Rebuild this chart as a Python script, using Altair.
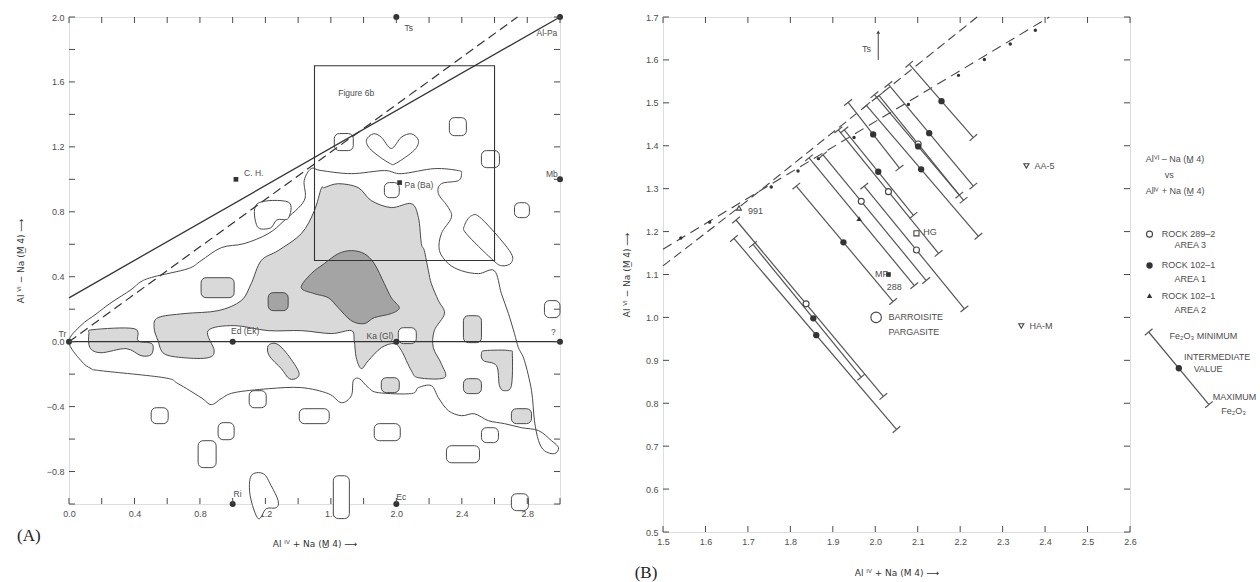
import altair as alt
import pandas as pd

FONT = "Liberation Sans"
LINE = "#4a4a4a"
LIGHT = "#d9d9d9"
DARK = "#a4a4a4"
TXT = "#4d4d4d"

A_W, A_H = 491, 487
B_W, B_H = 467, 515

# ---------------- Panel A data ----------------
A_X_TICKS = [0.0, 0.2, 0.4, 0.6, 0.8, 1.0, 1.2, 1.4, 1.6, 1.8, 2.0, 2.2, 2.4, 2.6, 2.8, 3.0]
A_Y_TICKS = [-1.0, -0.8, -0.6, -0.4, -0.2, 0.0, 0.2, 0.4, 0.6, 0.8, 1.0, 1.2, 1.4, 1.6, 1.8, 2.0]
A_X_LABELS = [0.0, 0.4, 0.8, 1.2, 1.6, 2.0, 2.4, 2.8]
A_Y_LABELS = [-0.8, -0.4, 0.0, 0.4, 0.8, 1.2, 1.6, 2.0]

OUTER_X = [0.0, 0.073, 0.135, 0.196, 0.581, 0.667, 0.807, 0.869, 0.93, 1.009, 1.217, 1.419, 1.584, 1.664,
           1.725, 1.737, 1.774, 1.829, 1.89, 2.092, 2.135, 2.214, 2.257, 2.318, 2.398, 2.477, 2.563, 2.661,
           2.765, 2.869, 2.948, 2.991, 2.966, 2.905, 2.869, 2.844, 2.826, 2.783, 2.746, 2.722, 2.685, 2.642,
           2.599, 2.502, 2.398, 2.318, 2.263, 2.275, 2.336, 2.318, 2.257, 2.275, 2.379, 2.398, 2.379, 2.232,
           2.031, 1.927, 1.725, 1.541, 1.48, 1.437, 1.437, 1.315, 1.217, 1.07, 0.93, 0.807, 0.728, 0.52,
           0.44, 0.379, 0.257, 0.165, 0.073]
OUTER_Y = [0.0, -0.117, -0.166, -0.179, -0.222, -0.259, -0.345, -0.388, -0.351, -0.314, -0.29, -0.283, -0.32,
           -0.376, -0.333, -0.241, -0.228, -0.283, -0.314, -0.32, -0.283, -0.271, -0.345, -0.425, -0.456,
           -0.444, -0.487, -0.505, -0.53, -0.548, -0.61, -0.653, -0.69, -0.672, -0.61, -0.487, -0.302, -0.117,
           -0.037, 0.049, 0.173, 0.296, 0.437, 0.419, 0.437, 0.481, 0.561, 0.665, 0.764, 0.826, 0.912, 0.973,
           0.992, 1.035, 1.054, 1.066, 1.035, 1.054, 1.035, 1.054, 1.066, 0.992, 0.869, 0.746, 0.665, 0.604,
           0.579, 0.499, 0.45, 0.40, 0.37, 0.32, 0.24, 0.17, 0.10]

LIGHT_X = [1.56, 1.645, 1.767, 1.847, 1.969, 2.092, 2.135, 2.153, 2.171, 2.196, 2.214, 2.257, 2.294, 2.232,
           2.226, 2.275, 2.294, 2.135, 2.092, 2.031, 1.988, 1.908, 1.829, 1.786, 1.755, 1.743, 1.725, 1.602,
           1.419, 1.217, 1.009, 0.85, 0.887, 0.85, 0.703, 0.581, 0.544, 0.52, 0.544, 0.703, 0.911, 1.052,
           1.113, 1.174, 1.278, 1.419, 1.498, 1.541]
LIGHT_Y = [0.949, 0.973, 0.949, 0.869, 0.826, 0.85, 0.764, 0.604, 0.561, 0.437, 0.357, 0.253, 0.173, 0.068,
           -0.037, -0.136, -0.222, -0.222, -0.179, -0.055, -0.012, -0.037, -0.117, -0.166, -0.099, 0.006,
           0.068, 0.05, 0.068, 0.068, 0.099, 0.068, -0.055, -0.099, -0.099, -0.074, 0.006, 0.086, 0.148,
           0.173, 0.191, 0.253, 0.357, 0.499, 0.561, 0.665, 0.804, 0.943]

DARK_X = [1.419, 1.48, 1.56, 1.645, 1.725, 1.804, 1.865, 1.927, 1.969, 2.018, 1.969, 1.865, 1.804, 1.725,
          1.645, 1.584, 1.498]
DARK_Y = [0.333, 0.419, 0.481, 0.542, 0.561, 0.542, 0.481, 0.357, 0.271, 0.209, 0.173, 0.148, 0.111, 0.129,
          0.209, 0.271, 0.296]

LEFTBLOB_X = [0.122, 0.147, 0.398, 0.422, 0.489, 0.514, 0.502, 0.44, 0.349, 0.196, 0.128]
LEFTBLOB_Y = [0.049, 0.074, 0.08, 0.006, -0.006, -0.025, -0.08, -0.086, -0.043, -0.068, -0.037]
SLANT_X = [1.217, 1.266, 1.327, 1.401, 1.394, 1.346, 1.297, 1.223]
SLANT_Y = [-0.025, -0.012, -0.068, -0.179, -0.222, -0.228, -0.166, -0.086]
TRI_X = [2.52, 2.544, 2.691, 2.709, 2.703, 2.661, 2.63, 2.612, 2.532]
TRI_Y = [-0.074, -0.055, -0.055, -0.086, -0.271, -0.302, -0.271, -0.148, -0.117]

V_X = [1.817, 1.859, 1.908, 1.969, 2.031, 2.092, 2.135, 2.11, 2.0, 1.957, 1.847]
V_Y = [1.24, 1.28, 1.26, 1.19, 1.26, 1.28, 1.24, 1.18, 1.10, 1.10, 1.18]
DIAG_X = [2.416, 2.459, 2.52, 2.691, 2.703, 2.642, 2.581, 2.428]
DIAG_Y = [0.715, 0.776, 0.758, 0.561, 0.487, 0.468, 0.511, 0.665]
LOW_X = [1.113, 1.187, 1.235, 1.278, 1.266, 1.205, 1.156, 1.107]
LOW_Y = [-0.826, -0.813, -0.887, -0.98, -1.023, -1.029, -1.09, -0.949]
LSHAPE_X = [1.15, 1.34, 1.34, 1.27, 1.23, 1.15]
LSHAPE_Y = [0.85, 0.86, 0.76, 0.75, 0.70, 0.71]

RR_X1 = [1.101, 0.502, 0.911, 0.789, 1.407, 1.615, 1.865, 2.306, 2.52, 2.703, 2.012, 2.905, 2.52, 2.722,
         1.927, 2.324, 1.621, 0.807, 2.703, 2.41, 1.908, 2.41, 1.217]
RR_X2 = [1.205, 0.606, 1.009, 0.899, 1.59, 1.713, 2.024, 2.508, 2.624, 2.807, 2.122, 3.0, 2.63, 2.813,
         2.018, 2.428, 1.737, 1.009, 2.826, 2.52, 2.018, 2.52, 1.339]
RR_Y1 = [-0.302, -0.407, -0.499, -0.61, -0.413, -0.826, -0.505, -0.641, -0.53, -0.937, 0.086, 0.253, 1.177,
         0.856, 0.98, 1.38, 1.282, 0.394, -0.413, -0.228, -0.222, 0.16, 0.302]
RR_Y2 = [-0.407, -0.505, -0.604, -0.776, -0.505, -1.09, -0.61, -0.746, -0.622, -1.041, -0.012, 0.148, 1.072,
         0.764, 0.887, 1.269, 1.177, 0.271, -0.505, -0.32, -0.314, -0.006, 0.191]
RR_KIND = ["white"] * 17 + ["light"] * 5 + ["dark"]

A_PT_X = [0.0, 1.0, 2.0, 3.0, 1.0, 2.0, 2.0, 3.0, 3.0]
A_PT_Y = [0.0, 0.0, 0.0, 0.0, -1.0, -1.0, 2.0, 2.0, 1.0]
A_SQ_X = [1.02, 2.02]
A_SQ_Y = [1.0, 0.98]

A_LBL = ["Tr", "Ed (Ek)", "Ka (Gl)", "?", "Ri", "Ec", "Ts", "Al-Pa", "Mb", "Pa (Ba)", "C. H.", "Figure 6b"]
A_LBL_X = [-0.04, 0.99, 1.90, 2.96, 1.03, 2.03, 2.05, 2.92, 2.95, 2.05, 1.07, 1.645]
A_LBL_Y = [0.05, 0.065, 0.035, 0.06, -0.94, -0.955, 1.93, 1.90, 1.03, 0.965, 1.04, 1.53]
A_LBL_AL = ["center", "left", "center", "center", "center", "center", "left", "center", "center", "left",
            "left", "left"]

SOLID_X = [0.0, 3.0]
SOLID_Y = [0.27, 2.0]
DASH_X = [0.0, 2.74]
DASH_Y = [0.0, 2.0]
HLINE_X = [0.0, 3.0]
HLINE_Y = [0.0, 0.0]
FIG6B = [1.5, 2.6, 0.5, 1.7]

# ---------------- Panel B data ----------------
B_X_TICKS = [1.5, 1.6, 1.7, 1.8, 1.9, 2.0, 2.1, 2.2, 2.3, 2.4, 2.5, 2.6]
B_Y_TICKS = [0.5, 0.6, 0.7, 0.8, 0.9, 1.0, 1.1, 1.2, 1.3, 1.4, 1.5, 1.6, 1.7]

BAR_X0 = [1.672, 1.667, 1.712, 1.814, 1.844, 1.877, 1.913, 1.927, 1.936, 1.974, 1.998, 2.009, 2.031, 2.080, 1.979]
BAR_Y0 = [1.227, 1.184, 1.170, 1.306, 1.372, 1.379, 1.437, 1.437, 1.501, 1.306, 1.519, 1.517, 1.543, 1.590, 1.494]
BAR_X1 = [2.019, 2.050, 1.967, 2.042, 2.092, 2.120, 2.149, 2.090, 2.057, 2.210, 2.198, 2.208, 2.231, 2.231, 2.243]
BAR_Y1 = [0.816, 0.739, 0.861, 1.037, 1.074, 1.086, 1.149, 1.238, 1.348, 1.020, 1.285, 1.273, 1.306, 1.419, 1.189]
BAR_MX = [1.837, 1.861, 1.854, 1.925, 1.962, 1.967, 2.031, 2.007, 1.995, 2.097, 2.101, 2.101, 2.127, 2.156, 2.108]
BAR_KIND = ["open", "filled", "filled", "filled", "tri", "open", "open", "filled", "filled", "open",
            "filled", "open", "filled", "filled", "filled"]

DASH1_X = [1.5, 1.69, 2.24]
DASH1_Y = [1.12, 1.265, 1.70]
DASH2_X = [1.5, 2.41]
DASH2_Y = [1.159, 1.70]
DOTS_X = [1.542, 1.61, 1.755, 1.818, 1.866, 1.95, 2.078, 2.196, 2.257, 2.318, 2.377]
DOTS_Y = [1.185, 1.222, 1.304, 1.341, 1.37, 1.419, 1.496, 1.564, 1.601, 1.637, 1.669]

LEG_BAR = [2.644, 0.966, 2.786, 0.797, 2.715]

B_SPEC_X = [1.679, 2.031, 2.097, 2.002, 2.356, 2.344, 2.646, 2.646, 2.646]
B_SPEC_Y = [1.255, 1.10, 1.196, 1.0, 1.353, 0.98, 1.194, 1.121, 1.051]
B_SPEC_KIND = ["tri_open", "sq_filled", "sq_open", "big_open", "down_open", "down_open", "open", "filled", "tri"]

B_LBL = ["Ts", "991", "MF", "288", "HG", "BARROISITE", "PARGASITE", "AA-5", "HA-M",
         "Al\u2c7d\u1d35 \u2013 Na (M\u0332 4)", "vs", "Al\u1d35\u2c7d + Na (M\u0332 4)",
         "ROCK  289\u20132", "AREA 3", "ROCK  102\u20131", "AREA 1", "ROCK  102\u20131", "AREA 2",
         "Fe\u2082O\u2083  MINIMUM", "INTERMEDIATE", "VALUE", "MAXIMUM", "Fe\u2082O\u2083"]
B_LBL_X = [1.99, 1.70, 2.03, 2.045, 2.113, 2.031, 2.031, 2.375, 2.363,
           2.637, 2.682, 2.637, 2.675, 2.705, 2.675, 2.705, 2.675, 2.705, 2.693, 2.727, 2.75, 2.795, 2.815]
B_LBL_Y = [1.625, 1.248, 1.102, 1.072, 1.20, 1.0, 0.966, 1.353, 0.98,
           1.369, 1.332, 1.294, 1.194, 1.168, 1.121, 1.09, 1.051, 1.018, 0.957, 0.908, 0.88, 0.814, 0.783]
B_LBL_AL = ["right", "left", "right", "center", "left", "left", "left", "left", "left",
            "left", "left", "left", "left", "left", "left", "left", "left", "left", "left", "left", "left",
            "left", "left"]

TS_ARROW = [2.007, 1.60, 1.665]

PANEL_TAGS = ["(A)", "(B)"]

# ---------------- helpers ----------------
A_XS = alt.Scale(domain=[0, 3.0], nice=False, zero=False)
A_YS = alt.Scale(domain=[-1.0, 2.0], nice=False, zero=False)
B_XS = alt.Scale(domain=[1.5, 2.6], nice=False, zero=False)
B_YS = alt.Scale(domain=[0.5, 1.7], nice=False, zero=False)

XTITLE = "Al \u1d35\u2c7d + Na (M\u0332 4) \u27f6"
XTITLE_B = "Al \u1d35\u2c7d + Na (M 4) \u27f6"
YTITLE = "Al \u2c7d\u1d35 \u2212 Na (M\u0332 4) \u27f6"


def axis_common(values, title, tpad):
    return alt.Axis(values=values, format=".1f", ticks=False, domain=False, grid=False, labelFlush=False,
                    labelPadding=5, labelFont=FONT, labelFontSize=9, labelColor=TXT, title=title,
                    titleFont="DejaVu Sans", titleFontSize=9, titleFontWeight="normal", titleColor="#333",
                    titlePadding=tpad)


def AX(f="x"):
    return alt.X(f + ":Q", scale=A_XS, axis=axis_common(A_X_LABELS, XTITLE, 21))


def AY(f="y"):
    return alt.Y(f + ":Q", scale=A_YS, axis=axis_common(A_Y_LABELS, YTITLE, 21))


def BX(f="x"):
    return alt.X(f + ":Q", scale=B_XS, axis=axis_common(B_X_TICKS, XTITLE_B, 22))


def BY(f="y"):
    return alt.Y(f + ":Q", scale=B_YS, axis=axis_common(B_Y_TICKS, YTITLE, 14))


def polys(groups):
    rows = []
    for name, xs, ys in groups:
        for i, (x, y) in enumerate(zip(xs, ys)):
            rows.append({"name": name, "i": i, "x": x, "y": y})
    return pd.DataFrame(rows)


def poly_layer(groups, fill, X, Y):
    return alt.Chart(polys(groups)).mark_line(
        interpolate="cardinal-closed", fill=fill, stroke=LINE, strokeWidth=1
    ).encode(x=X("x"), y=Y("y"), detail="name:N", order="i:Q")


def tick_layers(xt, yt, X, Y, w, h, L=6):
    dx = pd.DataFrame({"x": xt})
    dy = pd.DataFrame({"y": yt})
    st = dict(color=LINE, strokeWidth=1)
    return [
        alt.Chart(dx).mark_rule(**st).encode(x=X("x"), y=alt.value(h), y2=alt.value(h - L)),
        alt.Chart(dx).mark_rule(**st).encode(x=X("x"), y=alt.value(0), y2=alt.value(L)),
        alt.Chart(dy).mark_rule(**st).encode(y=Y("y"), x=alt.value(0), x2=alt.value(L)),
        alt.Chart(dy).mark_rule(**st).encode(y=Y("y"), x=alt.value(w), x2=alt.value(w - L)),
    ]


def text_layers(texts, xs, ys, aligns, X, Y, size=9, font=FONT, color=TXT):
    df = pd.DataFrame({"t": texts, "x": xs, "y": ys, "a": aligns})
    out = []
    for al in ["left", "center", "right"]:
        sub = df[df.a == al]
        if len(sub):
            out.append(alt.Chart(sub).mark_text(align=al, baseline="middle", font=font, fontSize=size,
                                                color=color).encode(x=X("x"), y=Y("y"), text="t:N"))
    return out


# ---------------- Panel A ----------------
a_layers = []
a_layers.append(poly_layer([("outer", OUTER_X, OUTER_Y)], "white", AX, AY))
a_layers.append(poly_layer([("light", LIGHT_X, LIGHT_Y), ("lb", LEFTBLOB_X, LEFTBLOB_Y),
                            ("sl", SLANT_X, SLANT_Y), ("tri", TRI_X, TRI_Y)], LIGHT, AX, AY))
a_layers.append(poly_layer([("dark", DARK_X, DARK_Y)], DARK, AX, AY))
a_layers.append(poly_layer([("v", V_X, V_Y), ("diag", DIAG_X, DIAG_Y), ("low", LOW_X, LOW_Y),
                            ("lsh", LSHAPE_X, LSHAPE_Y)], "white", AX, AY))
rr = pd.DataFrame({"x": RR_X1, "x2": RR_X2, "y": RR_Y1, "y2": RR_Y2, "kind": RR_KIND})
a_layers.append(alt.Chart(rr).mark_rect(cornerRadius=5, stroke=LINE, strokeWidth=1).encode(
    x=AX("x"), x2="x2:Q", y=AY("y"), y2="y2:Q",
    fill=alt.Fill("kind:N", scale=alt.Scale(domain=["white", "light", "dark"], range=["white", LIGHT, DARK]),
                  legend=None)))

lines_a = pd.DataFrame({"x": SOLID_X + HLINE_X, "y": SOLID_Y + HLINE_Y, "g": ["s", "s", "h", "h"]})
a_layers.append(alt.Chart(lines_a).mark_line(color="#333", strokeWidth=1.3).encode(
    x=AX("x"), y=AY("y"), detail="g:N"))
a_layers.append(alt.Chart(pd.DataFrame({"x": DASH_X, "y": DASH_Y})).mark_line(
    color="#333", strokeWidth=1.2, strokeDash=[9, 5]).encode(x=AX("x"), y=AY("y")))
a_layers.append(alt.Chart(pd.DataFrame({"x": [FIG6B[0]], "x2": [FIG6B[1]], "y": [FIG6B[2]], "y2": [FIG6B[3]]}))
                .mark_rect(fillOpacity=0, stroke="#333", strokeWidth=1.1).encode(
    x=AX("x"), x2="x2:Q", y=AY("y"), y2="y2:Q"))
a_layers.append(alt.Chart(pd.DataFrame({"x": A_PT_X, "y": A_PT_Y})).mark_point(
    filled=True, shape="circle", size=36, color="#333", opacity=1).encode(x=AX("x"), y=AY("y")))
a_layers.append(alt.Chart(pd.DataFrame({"x": A_SQ_X, "y": A_SQ_Y})).mark_point(
    filled=True, shape="square", size=22, color="#333", opacity=1).encode(x=AX("x"), y=AY("y")))
a_layers += text_layers(A_LBL, A_LBL_X, A_LBL_Y, A_LBL_AL, AX, AY, size=8.5)
a_layers += tick_layers(A_X_TICKS, A_Y_TICKS, AX, AY, A_W, A_H)
a_layers += text_layers([PANEL_TAGS[0]], [-0.245], [-1.195], ["center"], AX, AY, size=17,
                        font="Liberation Serif", color="#222")

panel_a = alt.layer(*a_layers).properties(width=A_W, height=A_H)

# ---------------- Panel B ----------------
kx = B_W / (B_XS.domain[1] - B_XS.domain[0])
ky = B_H / (B_YS.domain[1] - B_YS.domain[0])


def bar_tables(x0s, y0s, x1s, y1s, mxs, kinds, half=5.0):
    segs, ticks, marks = [], [], []
    for k, (x0, y0, x1, y1, mx, kd) in enumerate(zip(x0s, y0s, x1s, y1s, mxs, kinds)):
        segs.append({"x": x0, "y": y0, "x2": x1, "y2": y1})
        px, py = (x1 - x0) * kx, (y1 - y0) * ky
        ln = (px * px + py * py) ** 0.5
        nx, ny = -py / ln, px / ln
        for (ex, ey) in [(x0, y0), (x1, y1)]:
            ticks.append({"x": ex - nx * half / kx, "y": ey - ny * half / ky,
                          "x2": ex + nx * half / kx, "y2": ey + ny * half / ky})
        t = (mx - x0) / (x1 - x0)
        marks.append({"x": mx, "y": y0 + t * (y1 - y0), "kind": kd})
    return pd.DataFrame(segs), pd.DataFrame(ticks), pd.DataFrame(marks)


segs, ticks, marks = bar_tables(BAR_X0 + [LEG_BAR[0]], BAR_Y0 + [LEG_BAR[1]], BAR_X1 + [LEG_BAR[2]],
                                BAR_Y1 + [LEG_BAR[3]], BAR_MX + [LEG_BAR[4]], BAR_KIND + ["filled"])
spec = pd.DataFrame({"x": B_SPEC_X, "y": B_SPEC_Y, "kind": B_SPEC_KIND})
marks = pd.concat([marks, spec], ignore_index=True)

b_layers = []
b_layers.append(alt.Chart(pd.DataFrame({"x": DASH1_X, "y": DASH1_Y})).mark_line(
    color="#444", strokeWidth=1.1, strokeDash=[9, 5]).encode(x=BX("x"), y=BY("y")))
b_layers.append(alt.Chart(pd.DataFrame({"x": DASH2_X, "y": DASH2_Y})).mark_line(
    color="#444", strokeWidth=1.1, strokeDash=[10, 6]).encode(x=BX("x"), y=BY("y")))
b_layers.append(alt.Chart(pd.DataFrame({"x": DOTS_X, "y": DOTS_Y})).mark_point(
    filled=True, size=12, color="#333", opacity=1).encode(x=BX("x"), y=BY("y")))
b_layers.append(alt.Chart(segs).mark_rule(color="#555", strokeWidth=1.2).encode(
    x=BX("x"), y=BY("y"), x2="x2:Q", y2="y2:Q"))
b_layers.append(alt.Chart(ticks).mark_rule(color="#555", strokeWidth=1.2).encode(
    x=BX("x"), y=BY("y"), x2="x2:Q", y2="y2:Q"))

mstyles = [
    ("open", "circle", False, 36),
    ("filled", "circle", True, 40),
    ("tri", "triangle-up", True, 30),
    ("tri_open", "triangle-up", False, 24),
    ("sq_filled", "square", True, 22),
    ("sq_open", "square", False, 26),
    ("big_open", "circle", False, 110),
    ("down_open", "triangle-down", False, 26),
]
for kd, shp, fl, sz in mstyles:
    sub = marks[marks.kind == kd]
    if len(sub):
        if fl:
            mk = alt.Chart(sub).mark_point(shape=shp, filled=True, size=sz, color="#333", opacity=1)
        else:
            mk = alt.Chart(sub).mark_point(shape=shp, filled=False, fill="white", size=sz, stroke="#444",
                                           strokeWidth=1.1, opacity=1)
        b_layers.append(mk.encode(x=BX("x"), y=BY("y")))

b_layers.append(alt.Chart(pd.DataFrame({"x": [TS_ARROW[0]], "y": [TS_ARROW[1]], "y2": [TS_ARROW[2]]}))
                .mark_rule(color="#444", strokeWidth=1).encode(x=BX("x"), y=BY("y"), y2="y2:Q"))
b_layers.append(alt.Chart(pd.DataFrame({"x": [TS_ARROW[0]], "y": [TS_ARROW[2]]})).mark_point(
    shape="triangle-up", filled=True, size=14, color="#444", opacity=1).encode(x=BX("x"), y=BY("y")))

b_layers += text_layers(B_LBL, B_LBL_X, B_LBL_Y, B_LBL_AL, BX, BY, size=9)
b_layers += tick_layers(B_X_TICKS, B_Y_TICKS, BX, BY, B_W, B_H)
b_layers += text_layers([PANEL_TAGS[1]], [1.46], [0.405], ["center"], BX, BY, size=17,
                        font="Liberation Serif", color="#222")

panel_b = alt.layer(*b_layers).properties(width=B_W, height=B_H)

chart = alt.hconcat(panel_a, panel_b, spacing=57).properties(
    padding={"left": 15, "top": 12, "right": 0, "bottom": 0}
).configure_view(stroke="#333", strokeWidth=1.2).configure(background="white")

chart.save("out.html", embed_options={"renderer": "svg", "actions": False})
